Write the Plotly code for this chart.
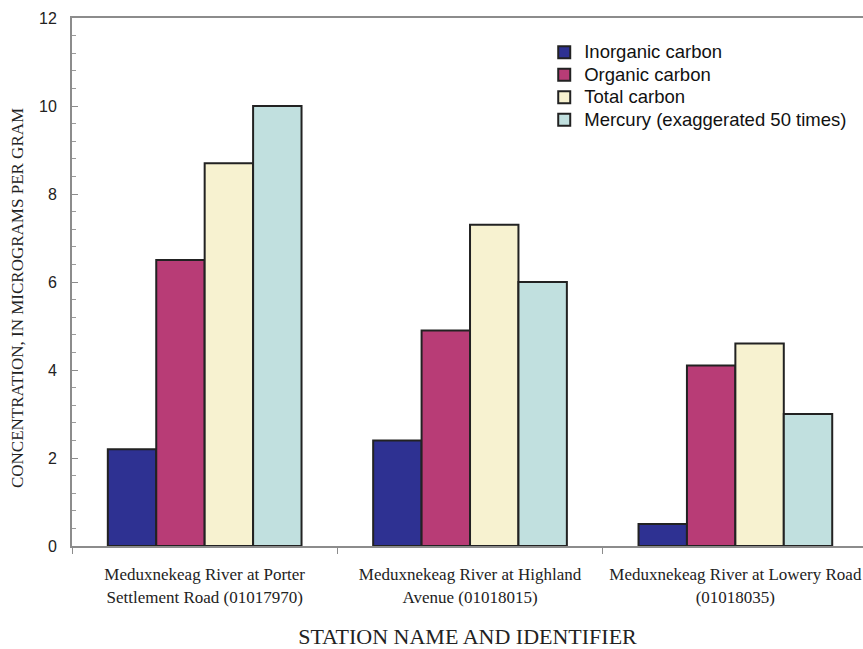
import plotly.graph_objects as go

# Stations (category labels) and concentrations, in micrograms per gram
stations = [
    "Meduxnekeag River at Porter<br>Settlement Road (01017970)",
    "Meduxnekeag River at Highland<br>Avenue (01018015)",
    "Meduxnekeag River at Lowery Road<br>(01018035)",
]
inorganic_carbon = [2.2, 2.4, 0.5]
organic_carbon = [6.5, 4.9, 4.1]
total_carbon = [8.7, 7.3, 4.6]
mercury_x50 = [10.0, 6.0, 3.0]

series = [
    ("Inorganic carbon", inorganic_carbon, "#2e3192"),
    ("Organic carbon", organic_carbon, "#b83c76"),
    ("Total carbon", total_carbon, "#f7f2d0"),
    ("Mercury (exaggerated 50 times)", mercury_x50, "#c1e0df"),
]

serif = "Liberation Serif, Times New Roman, serif"
sans = "Liberation Sans, Arial, sans-serif"

fig = go.Figure()
for name, vals, color in series:
    fig.add_trace(go.Bar(
        x=stations, y=vals,
        # larger legend text while keeping the compact row spacing
        name=f'<span style="font-size:18.5px">{name}</span>',
        hovertext=name,
        marker=dict(color=color, line=dict(color="#222222", width=2)),
    ))

fig.update_layout(
    width=863, height=649,
    margin=dict(l=72, r=0, t=18, b=103),
    paper_bgcolor="white", plot_bgcolor="white",
    barmode="group", bargap=0.27, bargroupgap=0,
    showlegend=True,
    legend=dict(
        x=0.597, y=0.966, xanchor="left", yanchor="top",
        font=dict(family=sans, size=15, color="#111111"),
        bgcolor="rgba(0,0,0,0)", itemwidth=30, tracegroupgap=0,
    ),
    xaxis=dict(
        type="category", range=[-0.5, 2.481],
        showline=True, linecolor="#8c8c8c", linewidth=2, mirror=True,
        ticks="outside", tickson="boundaries", ticklen=6, tickcolor="#8c8c8c",
        ticklabelstandoff=12,
        tickfont=dict(family=serif, size=17, color="#222222"),
        title=dict(text="STATION NAME AND IDENTIFIER",
                   font=dict(family=serif, size=22, color="#222222"), standoff=24),
        showgrid=False,
    ),
    yaxis=dict(
        range=[0, 12], tickvals=[0, 2, 4, 6, 8, 10, 12],
        showline=True, linecolor="#8c8c8c", linewidth=2,
        ticks="inside", ticklen=6, tickcolor="#8c8c8c",
        ticklabelstandoff=10,
        minor=dict(dtick=0.4, ticks="inside", ticklen=4, tickcolor="#9a9a9a"),
        tickfont=dict(family=sans, size=16, color="#222222"),
        showgrid=False, zeroline=False,
    ),
    annotations=[dict(
        text="CONCENTRATION, IN MICROGRAMS PER GRAM",
        xref="paper", yref="paper", x=-0.068, y=0.470,
        xanchor="center", yanchor="middle", textangle=-90, showarrow=False,
        font=dict(family=serif, size=17, color="#222222"),
    )],
)

fig.write_html("out.html")
